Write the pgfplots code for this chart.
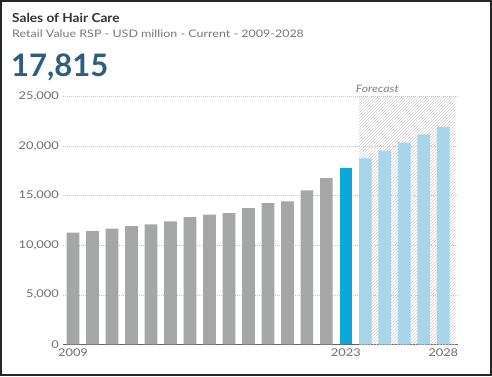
\documentclass[border=0pt]{standalone}
\usepackage{pgfplots}
\pgfplotsset{compat=1.18}
\usepackage{fontspec}
\setmainfont{Lato}
\newfontfamily\wide{Lato}[FakeStretch=1.2]
\newfontfamily\widet{Lato}[FakeStretch=1.1]
\usetikzlibrary{patterns}
\definecolor{histgray}{HTML}{A5A6A8}
\definecolor{curblue}{HTML}{0AA9D9}
\definecolor{fcblue}{HTML}{A8D5EA}
\definecolor{titlecol}{HTML}{333333}
\definecolor{subcol}{HTML}{777777}
\definecolor{bignum}{HTML}{2D5E80}
\definecolor{tickcol}{HTML}{6E6E6E}
\begin{document}
\begin{tikzpicture}[x=1pt,y=1pt]
\useasboundingbox (0,0) rectangle (492,376);
\fill[white] (0,0) rectangle (492,376);
\draw[line width=1.6pt, black!85] (0.8,0.8) rectangle (491.2,375.2);
\node[anchor=base west, inner sep=0, font=\widet\fontsize{12.4}{14}\selectfont\bfseries, text=titlecol] at (12,354) {Sales of Hair Care};
\node[anchor=base west, inner sep=0, font=\wide\fontsize{10.4}{12}\selectfont, text=subcol] at (12,338.5) {Retail Value RSP - USD million - Current - 2009-2028};
\node[anchor=base west, inner sep=0, font=\fontsize{31}{34}\selectfont\bfseries, text=bignum] at (11,300) {17,815};
\begin{axis}[
  at={(63.3pt,31.7pt)}, anchor=south west,
  scale only axis, width=395pt, height=247.6pt,
  xmin=2008.5, xmax=2028.77, ymin=0, ymax=25000,
  axis x line*=bottom, axis y line*=left,
  x axis line style={draw=black!60, line width=0.9pt, -},
  y axis line style={draw=none},
  xtick={2009,2023,2028},
  xticklabels={2009,2023,2028},
  x tick label style={font=\wide\fontsize{10.7}{12}\selectfont, text=tickcol, yshift=-0.5pt},
  major tick length=0pt,
  ytick={0,5000,10000,15000,20000,25000},
  scaled y ticks=false,
  yticklabel style={font=\wide\fontsize{10.7}{12}\selectfont, text=tickcol, xshift=-1pt},
  yticklabels={0,{5,000},{10,000},{15,000},{20,000},{25,000}},
  ymajorgrids, grid style={dash pattern=on 0.6pt off 1.4pt, black!22, line width=0.5pt},
  /pgf/number format/assume math mode=true,
  clip=false,
  ybar, bar width=12.7pt,
]
\fill[pattern=north east lines, pattern color=black!16] (axis cs:2023.68,0) rectangle (axis cs:2028.62,25000);
\node[anchor=base west, inner sep=0, font=\wide\fontsize{10.2}{12}\selectfont\itshape, text=black!50] at (axis cs:2023.5,25000) [yshift=4pt] {Forecast};
\addplot[bar shift=0pt, fill=histgray, draw=none] coordinates {
(2009,11268) (2010,11440) (2011,11672) (2012,11945) (2013,12116)
(2014,12419) (2015,12853) (2016,13086) (2017,13257) (2018,13762)
(2019,14267) (2020,14439) (2021,15549) (2022,16791)};
\addplot[bar shift=0pt, fill=curblue, draw=none] coordinates {(2023,17815)};
\addplot[bar shift=0pt, fill=fcblue, draw=none] coordinates {
(2024,18780) (2025,19548) (2026,20355) (2027,21203) (2028,21940)};
\end{axis}
\end{tikzpicture}
\end{document}
